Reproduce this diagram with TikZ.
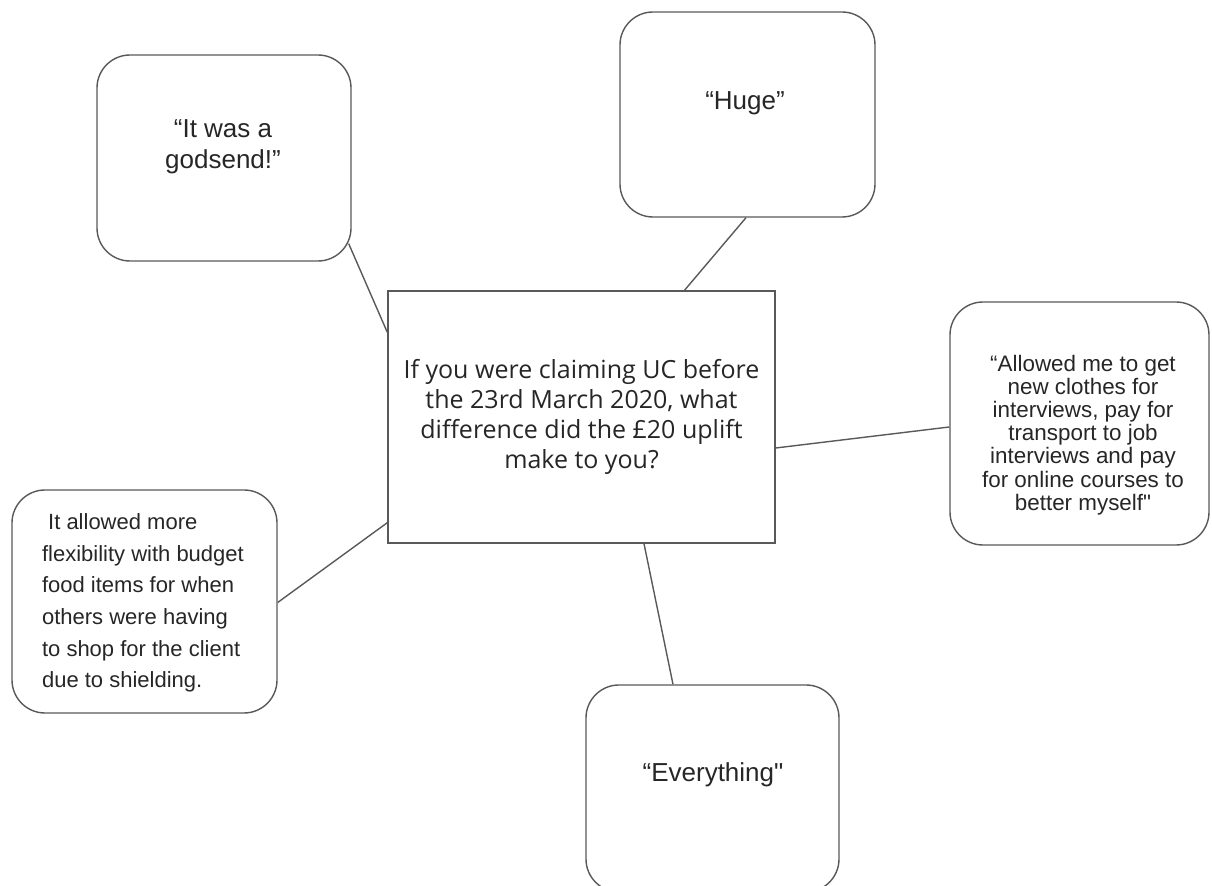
\documentclass[tikz,border=0pt]{standalone}
\usepackage{fontspec}
\setmainfont{Liberation Sans}
\newfontfamily\opensans{Open Sans}
\usetikzlibrary{calc}

\begin{document}
\begin{tikzpicture}[
    x=0.5pt, y=-0.5pt,
    bubble/.style={draw=black!65, line width=0.7pt, rounded corners=16.5pt,
                   inner sep=0pt},
    qbox/.style={draw=black!65, line width=0.7pt, align=center,
                 font=\opensans\fontsize{12.5}{15}\selectfont, text=black!85},
    quote/.style={align=center, text=black!85,
                  font=\fontsize{13}{15.5}\selectfont},
    link/.style={draw=black!65, line width=0.7pt}
  ]
  \useasboundingbox (0,0) rectangle (1212,886);

  % the question in the middle
  \node[qbox, minimum width=193.5pt, minimum height=126pt] (q) at (581.5,417)
    {If you were claiming UC before\\the 23rd March 2020, what\\
     difference did the £20 uplift\\make to you?};

  % answers
  \node[bubble, minimum width=127pt, minimum height=103pt] (gs) at (224,158) {};
  \node[quote] (gstext) at (223,147) {“It was a\\godsend!”};

  \node[bubble, minimum width=127.5pt, minimum height=102.5pt] (hg) at (747.5,114.5) {};
  \node[quote] (hgtext) at (745,103) {“Huge”};

  \node[bubble, minimum width=129.5pt, minimum height=121.5pt] (rt) at (1079.5,423.5) {};
  \node[align=center, text=black!85, font=\fontsize{11.2}{11.6}\selectfont]
    (rttext) at (1083,435)
    {“Allowed me to get\\new clothes for\\interviews, pay for\\transport to job\\
     interviews and pay\\for online courses to\\better myself\textquotedbl};

  \node[bubble, minimum width=132.5pt, minimum height=111.5pt] (lt) at (144.5,601.5) {};
  \node[anchor=west, align=left, text=black!85,
        font=\fontsize{11}{15.8}\selectfont] (lttext) at (35,603)
    {\ It allowed more\\flexibility with budget\\food items for when\\
     others were having\\to shop for the client\\due to shielding.};

  \node[bubble, minimum width=126.5pt, minimum height=103.5pt] (ev) at (712.5,788.5) {};
  \node[quote] (evtext) at (713,775) {“Everything\textquotedbl};

  % spokes
  \draw[link] ($(gs.south east)+(-3,-18)$) -- ($(q.north west)+(0,42)$);
  \draw[link] ($(hg.south)+(-1.5,0)$) -- ($(q.north)+(103,0)$);
  \draw[link] ($(q.east)+(0,31)$) -- ($(rt.west)+(0,3.5)$);
  \draw[link] ($(lt.east)+(0,1)$) -- ($(q.south west)+(0,-21)$);
  \draw[link] ($(q.south)+(62.5,0)$) -- ($(ev.north)+(-39.5,0)$);
\end{tikzpicture}
\end{document}
